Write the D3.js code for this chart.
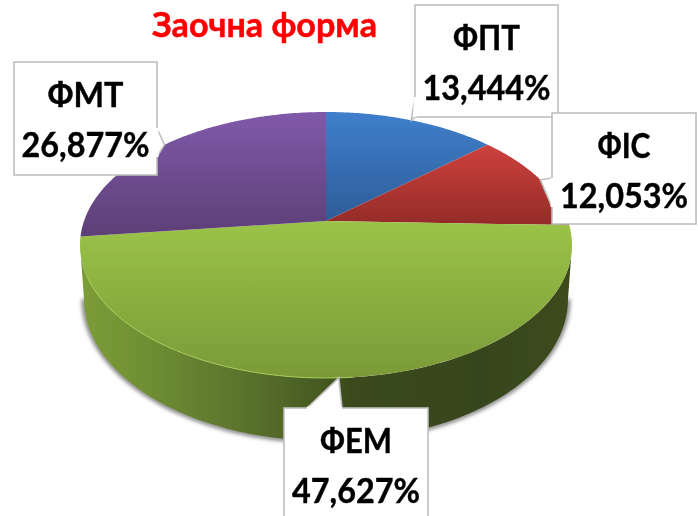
<!DOCTYPE html>
<html><head><meta charset="utf-8">
<script src="https://cdn.jsdelivr.net/npm/d3@7"></script>
<style>html,body{margin:0;padding:0;background:#fff;overflow:hidden}svg{display:block}</style>
</head><body><svg id="c" width="698" height="516"></svg>
<script>
const titleText = "Заочна форма";
const categories = ["ФПТ","ФІС","ФЕМ","ФМТ"];
const shares = [13.444,12.053,47.627,26.877];
const shareLabels = ["13,444%","12,053%","47,627%","26,877%"];
const topColors = [["#3f7fcc","#2e5d98"],["#ce423d","#932b28"],["#9bc348","#7a9a38"],["#8159aa","#5c3f76"]];

const W=698,H=516, cx=326, cy=245, rx=246, ry=133, tilt=0.18;
const baseCy=299, baseRx=242, baseRy=142;
const font="Lato, 'Noto Sans', sans-serif";
const svg=d3.select("#c");
const defs=svg.append("defs");
const px=d3.scaleLinear().domain([-1,1]).range([cx-rx,cx+rx]);
const py=d3.scaleLinear().domain([-1,1]).range([cy+ry,cy-ry]);
const bx=d3.scaleLinear().domain([-1,1]).range([cx-baseRx,cx+baseRx]);
const by=d3.scaleLinear().domain([-1,1]).range([baseCy+baseRy,baseCy-baseRy]);

function project(r,a){
  const x=r*Math.sin(a), y=r*Math.cos(a), d=1+tilt*y;
  return [Math.sqrt(1-tilt*tilt)*x/d,(y+tilt)/d];
}
const pt=(r,a)=>{const p=project(r,a);return [px(p[0]),py(p[1])];};
const basePt=a=>{const p=project(1,a);return [bx(p[0]),by(p[1])];};
const line=d3.line();
const arcs=d3.pie().sort(null).value(d=>d)(shares);
const sampled=(a0,a1,n=120)=>d3.range(n+1).map(i=>a0+(a1-a0)*i/n);

const blur=defs.append("filter").attr("id","soft").attr("x","-5%").attr("y","-5%").attr("width","110%").attr("height","110%");
blur.append("feGaussianBlur").attr("stdDeviation",0.6);
const shadow=defs.append("filter").attr("id","shadow").attr("x","-10%").attr("y","-10%").attr("width","120%").attr("height","120%");
shadow.append("feGaussianBlur").attr("stdDeviation",2);

const sideG=defs.append("linearGradient").attr("id","side").attr("gradientUnits","userSpaceOnUse")
  .attr("x1",cx-rx).attr("x2",cx+rx).attr("y1",0).attr("y2",0);
[[0,"#7d9d39"],[.14,"#6f8e33"],[.38,"#556c2a"],[.49,"#465a21"],[.55,"#3a491b"],[.82,"#36451a"],[1,"#3d4c1e"]]
  .forEach(s=>sideG.append("stop").attr("offset",s[0]).attr("stop-color",s[1]));
topColors.forEach((c,i)=>{
  const g=defs.append("linearGradient").attr("id","t"+i).attr("x1",0).attr("x2",0).attr("y1",0).attr("y2",1);
  g.append("stop").attr("offset",0).attr("stop-color",c[0]);
  g.append("stop").attr("offset",1).attr("stop-color",c[1]);
});

const root=svg.append("g").attr("filter","url(#soft)");
svg.append("rect").attr("width",W).attr("height",H).attr("fill","#fff").lower();

const frontStart=Math.acos(-tilt), frontEnd=2*Math.PI-frontStart;
const front=sampled(frontStart,frontEnd);
const sidePts=front.map(a=>pt(1,a)).concat(front.slice().reverse().map(basePt));
root.append("path").attr("d",line(front.map(basePt))).attr("fill","none").attr("stroke","#666").attr("stroke-width",4).attr("filter","url(#shadow)");
root.append("path").attr("d",line(sidePts)+"Z").attr("fill","url(#side)");

root.selectAll("path.slice").data(arcs).join("path").attr("class","slice")
  .attr("fill",(d,i)=>`url(#t${i})`)
  .attr("d",d=>line([pt(0,0)].concat(sampled(d.startAngle,d.endAngle).map(a=>pt(1,a))))+"Z");
root.append("path").attr("d",line(sampled(3.05,4.3).map(a=>pt(1,a))))
  .attr("fill","none").attr("stroke","#a5cb55").attr("stroke-width",1);

root.append("text").text(titleText).attr("x",264.5).attr("y",37).attr("text-anchor","middle")
  .attr("fill","#ff0000").attr("stroke","#ff0000").attr("stroke-width",0.5)
  .attr("font-family",font).attr("font-weight",700).attr("font-size",34)
  .attr("textLength",225).attr("lengthAdjust","spacingAndGlyphs");

const boxes=[{x:415,y:5,w:143,h:112,base:[[415,97],[415,117]]},
             {x:552,y:113,w:144,h:111,base:[[552,178],[552,207]]},
             {x:284,y:408,w:144,h:112,base:[[307,408],[342,408]]},
             {x:14,y:62,w:143,h:113,base:[[157,128],[157,157]]}];
const nameWidths=[67,53,72,76], order=[0,1,3,2];
order.forEach(i=>{
  const b=boxes[i], a=arcs[i], tip=pt(1,(a.startAngle+a.endAngle)/2);
  const g=root.append("g");
  g.append("path").attr("d",line([b.base[0],tip,b.base[1]])+"Z").attr("fill","#fff").attr("stroke","#bfbfbf").attr("stroke-width",1.6);
  g.append("rect").attr("x",b.x).attr("y",b.y).attr("width",b.w).attr("height",b.h).attr("fill","#fff").attr("stroke","#bfbfbf").attr("stroke-width",1.6);
  g.append("path").attr("d",line(b.base)).attr("stroke","#fff").attr("stroke-width",3);
  const mx=b.x+b.w/2;
  [[categories[i],b.y+45,nameWidths[i]],[shareLabels[i],b.y+95,128]].forEach(t=>{
    g.append("text").text(t[0]).attr("x",mx).attr("y",t[1]).attr("text-anchor","middle")
      .attr("font-family",font).attr("font-weight",700).attr("font-size",35).attr("fill","#000")
      .attr("stroke","#000").attr("stroke-width",0.4)
      .attr("textLength",t[2]).attr("lengthAdjust","spacingAndGlyphs");
  });
});
</script></body></html>
